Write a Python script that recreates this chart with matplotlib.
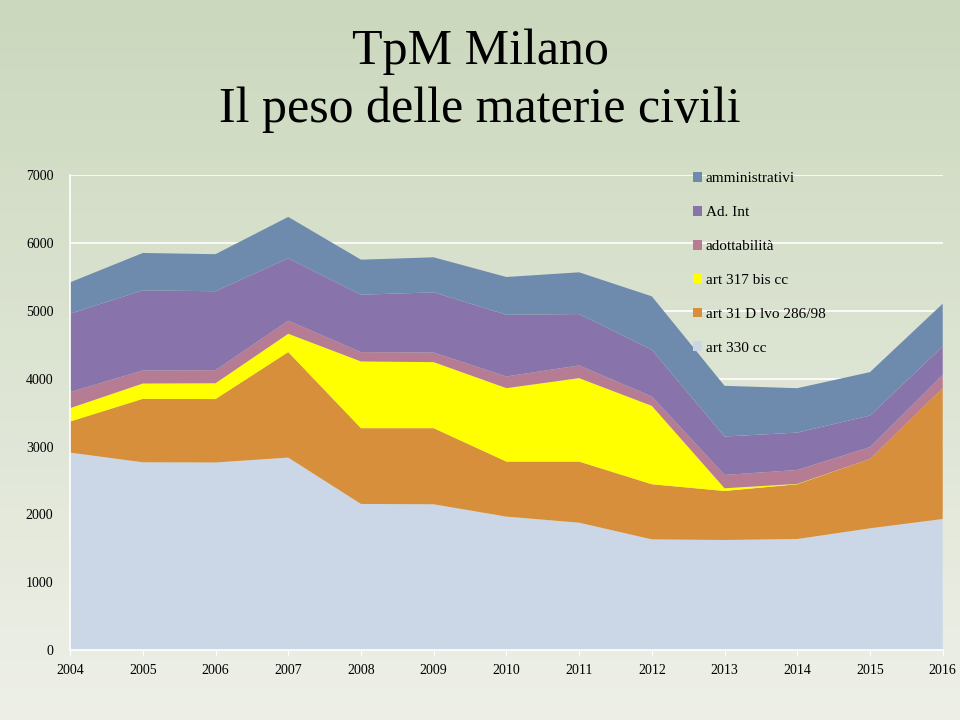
import numpy as np
import matplotlib.pyplot as plt

years = [2004, 2005, 2006, 2007, 2008, 2009, 2010, 2011, 2012, 2013, 2014, 2015, 2016]
art_330 = [2910, 2768, 2765, 2837, 2154, 2149, 1967, 1878, 1632, 1623, 1637, 1795, 1932]
art_31 = [458, 934, 934, 1554, 1116, 1121, 811, 900, 812, 722, 807, 1022, 1928]
art_317 = [197, 226, 233, 270, 983, 973, 1082, 1229, 1155, 40, 5, 0, 0]
adottabilita = [236, 192, 192, 192, 138, 141, 172, 187, 138, 196, 205, 173, 196]
ad_int = [1155, 1180, 1163, 919, 845, 887, 909, 757, 688, 566, 551, 466, 418]
amministrativi = [462, 551, 546, 610, 516, 516, 556, 615, 787, 747, 654, 640, 630]

labels = ["art 330 cc", "art 31 D lvo 286/98", "art 317 bis cc",
          "adottabilità", "Ad. Int", "amministrativi"]
colors = ["#CBD7E6", "#D78F3B", "#FFFF00", "#B67C93", "#8874AA", "#6E8BAE"]

serif = ["Liberation Serif", "DejaVu Serif"]

fig = plt.figure(figsize=(9.6, 7.2), dpi=100)

# slide background gradient
bg = fig.add_axes([0, 0, 1, 1], zorder=-10)
top = np.array([203, 216, 189]) / 255
bot = np.array([238, 240, 232]) / 255
t = np.linspace(0, 1, 256)[:, None]
grad = top[None, :] * (1 - t) + bot[None, :] * t
bg.imshow(grad[:, None, :], aspect="auto", extent=[0, 1, 0, 1])
bg.axis("off")

ax = fig.add_axes([0.073, 0.097, 0.909, 0.66])
ax.set_facecolor("none")
polys = ax.stackplot(years, art_330, art_31, art_317, adottabilita, ad_int,
                     amministrativi, colors=colors, labels=labels, zorder=2)

ax.set_xlim(2004, 2016)
ax.set_ylim(0, 7000)
ax.set_yticks(range(0, 7001, 1000))
ax.set_xticks(years)
ax.grid(axis="y", color="white", linewidth=1.2, zorder=1)
ax.set_axisbelow(True)
for s in ["top", "right"]:
    ax.spines[s].set_visible(False)
for s in ["left", "bottom"]:
    ax.spines[s].set_color("white")
    ax.spines[s].set_linewidth(1.2)
ax.tick_params(axis="y", length=0, pad=12)
ax.tick_params(axis="x", length=4, color="white", pad=6)
for lbl in ax.get_xticklabels() + ax.get_yticklabels():
    lbl.set_fontfamily(serif)
    lbl.set_fontsize(10)

handles, labs = ax.get_legend_handles_labels()
leg = ax.legend(handles[::-1], labs[::-1], loc="upper left",
                bbox_to_anchor=(0.698, 1.035), frameon=False,
                prop={"family": serif, "size": 11},
                handlelength=0.6, handleheight=0.6, handletextpad=0.25,
                labelspacing=1.35)

fig.text(0.5, 0.928, "TpM Milano", ha="center", va="center",
         fontsize=36, family=serif)
fig.text(0.5, 0.847, "Il peso delle materie civili", ha="center", va="center",
         fontsize=36, family=serif)

fig.savefig("out.png", dpi=100)
